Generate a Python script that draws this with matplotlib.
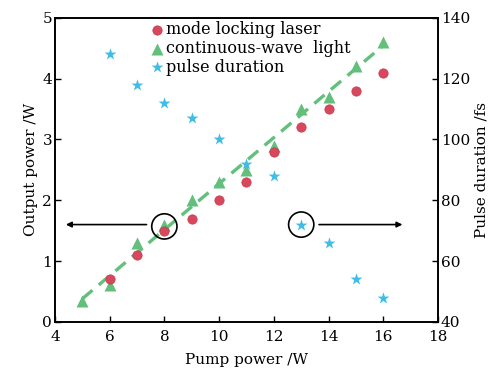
import numpy as np
import matplotlib
matplotlib.use("Agg")
import matplotlib.pyplot as plt

plt.rcParams["font.family"] = ["DejaVu Serif"]
plt.rcParams["mathtext.fontset"] = "dejavuserif"

# --- data ---
pump_ml = [6, 7, 8, 9, 10, 11, 12, 13, 14, 15, 16]
power_ml = [0.7, 1.1, 1.5, 1.7, 2.0, 2.3, 2.8, 3.2, 3.5, 3.8, 4.1]

pump_cw = [5, 6, 7, 8, 9, 10, 11, 12, 13, 14, 15, 16]
power_cw = [0.35, 0.6, 1.3, 1.6, 2.0, 2.3, 2.5, 2.9, 3.5, 3.7, 4.2, 4.6]

pump_pd = [6, 7, 8, 9, 10, 11, 12, 13, 14, 15, 16]
pulse_fs = [128, 118, 112, 107, 100, 92, 88, 72, 66, 54, 48]

red = "#d9475c"
green = "#62c07c"
blue = "#3dbde8"

fig = plt.figure(figsize=(4.9, 3.8), dpi=100)
ax = fig.add_axes([0.112, 0.153, 0.782, 0.8])
ax2 = ax.twinx()

# dashed linear fit of the cw data
k, b = np.polyfit(pump_cw, power_cw, 1)
xf = np.array([5, 16])
ax.plot(xf, k * xf + b, "--", color=green, lw=2.4, dashes=(4, 2.5), zorder=1)

ax.scatter(pump_ml, power_ml, s=45, color=red, edgecolors="#c23a4e", linewidths=0.5,
           zorder=3, label="mode locking laser")
ax.scatter(pump_cw, power_cw, s=75, marker="^", color=green, linewidths=0,
           zorder=2, label="continuous-wave  light")
ax2.scatter(pump_pd, pulse_fs, s=80, marker="*", color=blue, linewidths=0,
            zorder=3, label="pulse duration")

# circles with arrows
ax.scatter([8], [1.57], s=330, facecolors="none", edgecolors="black", linewidths=1.2, zorder=4)
ax2.scatter([13], [72], s=330, facecolors="none", edgecolors="black", linewidths=1.2, zorder=4)
ax.annotate("", xy=(4.3, 1.6), xytext=(7.45, 1.6),
            arrowprops=dict(arrowstyle="-|>", color="black", lw=1.2, mutation_scale=8))
ax.annotate("", xy=(16.8, 1.6), xytext=(13.55, 1.6),
            arrowprops=dict(arrowstyle="-|>", color="black", lw=1.2, mutation_scale=8))

ax.set_xlim(4, 18)
ax.set_ylim(0, 5)
ax2.set_ylim(40, 140)
ax.set_xticks([4, 6, 8, 10, 12, 14, 16, 18])
ax.set_yticks([0, 1, 2, 3, 4, 5])
ax2.set_yticks([40, 60, 80, 100, 120, 140])

ax.set_xlabel("Pump power /W", fontsize=11, labelpad=6)
ax.set_ylabel("Output power /W", fontsize=11, labelpad=3)
ax2.set_ylabel("Pulse duration /fs", fontsize=11, labelpad=3)

for a in (ax, ax2):
    a.tick_params(direction="in", labelsize=11, length=4, width=1, pad=2)
    for sp in a.spines.values():
        sp.set_linewidth(1.2)
ax.tick_params(axis="x", pad=6)

h1, l1 = ax.get_legend_handles_labels()
h2, l2 = ax2.get_legend_handles_labels()
ax.legend(h1 + h2, l1 + l2, loc="upper left", bbox_to_anchor=(0.22, 1.02),
          frameon=False, fontsize=11.5, handletextpad=0.1, labelspacing=0.1,
          handlelength=1.0, borderaxespad=0.2)

fig.savefig("out.png", dpi=100)
